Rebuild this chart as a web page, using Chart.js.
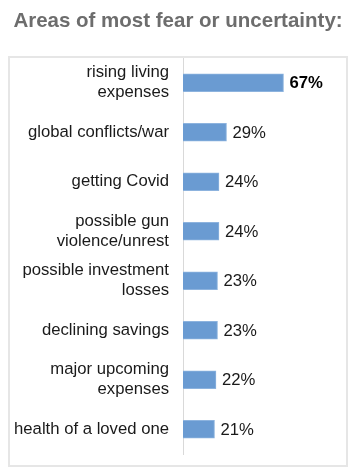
<!DOCTYPE html>
<html>
<head>
<meta charset="utf-8">
<script src="https://cdn.jsdelivr.net/npm/chart.js@4"></script>
<style>
html,body{margin:0;padding:0;background:#fff;}
#wrap{width:357px;height:476px;position:relative;}
</style>
</head>
<body>
<div id="wrap"><canvas id="c" width="357" height="476"></canvas></div>
<script>
const titleText = "Areas of most fear or uncertainty:";
const categories = [
  ["rising living", "expenses"],
  "global conflicts/war",
  "getting Covid",
  ["possible gun", "violence/unrest"],
  ["possible investment", "losses"],
  "declining savings",
  ["major upcoming", "expenses"],
  "health of a loved one"
];
const values = [67, 29, 24, 24, 23, 23, 22, 21];
const valueLabels = ["67%", "29%", "24%", "24%", "23%", "23%", "22%", "21%"];
const boldLabels = [true, false, false, false, false, false, false, false];

const FONT = "'Liberation Sans', Arial, Helvetica, sans-serif";

const framePlugin = {
  id: 'frame',
  beforeDraw(chart) {
    const ctx = chart.ctx;
    ctx.save();
    ctx.fillStyle = '#fff';
    ctx.fillRect(0, 0, chart.width, chart.height);
    ctx.strokeStyle = '#e6e6e6';
    ctx.lineWidth = 2;
    ctx.strokeRect(9, 57, 338, 409);
    ctx.fillStyle = '#6d6d6d';
    ctx.font = "bold 20.5px " + FONT;
    ctx.textAlign = 'center';
    ctx.textBaseline = 'middle';
    ctx.fillText(titleText, 178, 21);
    ctx.restore();
  }
};

const valuePlugin = {
  id: 'values',
  afterDatasetsDraw(chart) {
    const ctx = chart.ctx;
    const meta = chart.getDatasetMeta(0);
    ctx.save();
    ctx.textAlign = 'left';
    ctx.textBaseline = 'middle';
    meta.data.forEach((bar, i) => {
      ctx.font = (boldLabels[i] ? 'bold ' : '') + '16.7px ' + FONT;
      ctx.fillStyle = boldLabels[i] ? '#000' : '#1a1a1a';
      ctx.fillText(valueLabels[i], bar.x + 6, bar.y + 1);
    });
    ctx.restore();
  }
};

new Chart(document.getElementById('c'), {
  type: 'bar',
  data: {
    labels: categories,
    datasets: [{
      data: values,
      backgroundColor: '#6a9bd2',
      borderColor: '#8db3de',
      borderWidth: 1,
      barThickness: 18
    }]
  },
  options: {
    indexAxis: 'y',
    responsive: false,
    animation: false,
    devicePixelRatio: 1,
    layout: { padding: { top: 58, bottom: 22, left: 0, right: 24 } },
    plugins: { legend: { display: false }, tooltip: { enabled: false }, title: { display: false } },
    scales: {
      x: { display: false, min: 0, max: 100 },
      y: {
        afterFit(scale) { scale.width = 183; scale.paddingTop = 0; scale.paddingBottom = 0; },
        grid: { display: true, drawOnChartArea: false, drawTicks: false },
        border: { display: true, color: '#d9d9d9', width: 1 },
        ticks: {
          padding: 14,
          color: '#1a1a1a',
          font: { family: FONT, size: 16.7, lineHeight: 1.2 }
        }
      }
    }
  },
  plugins: [framePlugin, valuePlugin]
});
</script>
</body>
</html>
